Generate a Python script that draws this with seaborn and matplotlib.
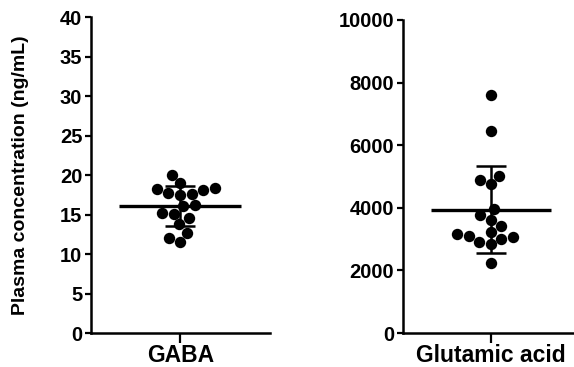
import numpy as np
import pandas as pd
import seaborn as sns
import matplotlib
matplotlib.use("Agg")
import matplotlib.pyplot as plt

# values
gaba = [20.0, 19.0, 17.7, 17.5, 18.2, 18.1, 18.4, 17.6, 16.1, 16.2,
        15.2, 14.6, 15.1, 13.8, 12.7, 12.0, 11.5]
glutamic = [7600, 6440, 5000, 4890, 4750, 3960, 3770, 3610, 3420, 3150,
            3080, 2920, 2830, 3000, 3110, 3220, 2250]

panels = ["GABA", "Glutamic acid"]
y_limits = [(0, 40), (0, 10000)]
y_ticks = [np.arange(0, 41, 5), np.arange(0, 10001, 2000)]
y_label = "Plasma concentration (ng/mL)"

sns.set_style("ticks")
plt.rcParams["font.family"] = ["Liberation Sans", "DejaVu Sans"]
plt.rcParams["font.weight"] = "bold"
plt.rcParams["text.color"] = "black"
plt.rcParams["axes.edgecolor"] = "black"
plt.rcParams["xtick.color"] = "black"
plt.rcParams["ytick.color"] = "black"
plt.rcParams["axes.labelcolor"] = "black"


def draw_panel(ax, name, values, ylim, yticks):
    df = pd.DataFrame({"group": name, "value": values})
    sns.swarmplot(data=df, x="group", y="value", ax=ax, color="black",
                  size=8.2, linewidth=0)
    mean = np.mean(values)
    sd = np.std(values, ddof=1)
    # mean line
    ax.hlines(mean, -0.34, 0.34, color="black", lw=2.4, zorder=5)
    # SD error bars
    ax.errorbar(0, mean, yerr=sd, color="black", lw=1.8, capsize=11,
                capthick=1.8, zorder=5)
    ax.set_xlim(-0.5, 0.5)
    ax.set_ylim(*ylim)
    ax.set_yticks(yticks)
    ax.set_xlabel("")
    ax.set_ylabel("")
    ax.set_xticks([0])
    ax.set_xticklabels([name], fontsize=16.5, fontweight="bold")
    ax.tick_params(axis="y", labelsize=14.5, width=1.6, length=4.5, pad=1.5)
    ax.tick_params(axis="x", width=1.6, length=7, pad=1)
    for lab in ax.get_yticklabels():
        lab.set_fontweight("bold")
    for s in ["left", "bottom"]:
        ax.spines[s].set_linewidth(1.8)
    sns.despine(ax=ax)


fig = plt.figure(figsize=(5.74, 3.67), dpi=100)
ax1 = fig.add_axes([0.158, 0.0926, 0.312, 0.861])
ax2 = fig.add_axes([0.7015, 0.0926, 0.307, 0.853])

draw_panel(ax1, panels[0], gaba, y_limits[0], y_ticks[0])
draw_panel(ax2, panels[1], glutamic, y_limits[1], y_ticks[1])

ax1.set_ylabel(y_label, fontsize=14, fontweight="bold")
ax1.yaxis.set_label_coords(-0.345, 0.5)

fig.savefig("out.png", dpi=100)
